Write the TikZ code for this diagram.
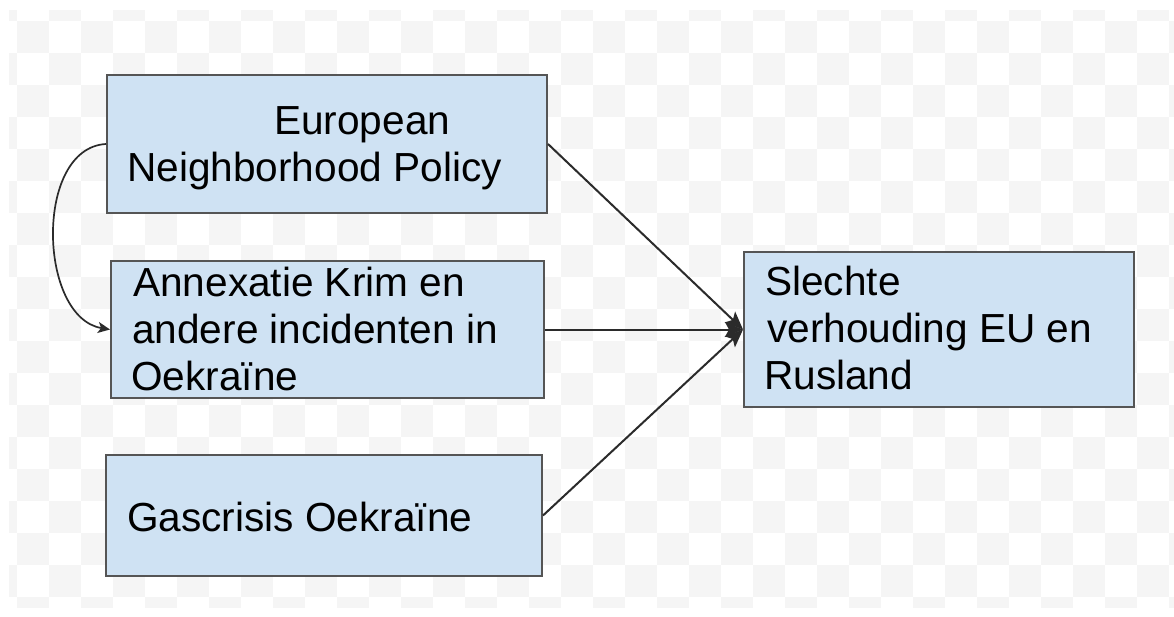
\documentclass[tikz,border=0pt]{standalone}
\usepackage{fontspec}
\setmainfont{Liberation Sans}
\usetikzlibrary{arrows.meta}
\definecolor{boxfill}{HTML}{CFE2F3}
\definecolor{boxdraw}{HTML}{555555}
\definecolor{chk}{HTML}{F5F5F5}
\definecolor{lin}{HTML}{2B2B2B}
\begin{document}
\begin{tikzpicture}[x=1pt,y=-1pt,
  box/.style={draw=boxdraw, line width=2pt, fill=boxfill, rectangle, inner sep=0pt},
  txt/.style={anchor=base west, inner sep=0pt, text=black, font=\fontsize{40.6}{47}\selectfont},
  conn/.style={draw=lin, line width=2pt, -{Stealth[length=18pt,width=15pt,inset=4pt]}},
  curv/.style={draw=lin, line width=1.7pt, -{Stealth[length=12pt,width=11pt,inset=3pt]}}]
\useasboundingbox (0,0) rectangle (1174,617);
\fill[white] (0,0) rectangle (1174,617);
\begin{scope}
  \clip (9,11) rectangle (1174,607);
  \foreach \i in {-1,...,36} {
    \foreach \j in {-1,...,18} {
      \pgfmathparse{int(mod(\i+\j+2,2))}
      \ifnum\pgfmathresult=0
        \fill[chk] ({17+32*\i},{21+32*\j}) rectangle +(32,32);
      \fi
    }
  }
\end{scope}
% boxes
\node[box, minimum width=440pt, minimum height=138pt] (enp) at (327,144) {};
\node[box, minimum width=433pt, minimum height=137pt] (ann) at (327.5,329.5) {};
\node[box, minimum width=436pt, minimum height=121pt] (gas) at (324,515.5) {};
\node[box, minimum width=390pt, minimum height=155pt] (rel) at (939,329.5) {};
% texts
\node[txt] (enp1) at (274,135) {European};
\node[txt] (enp2) at (127,182) {Neighborhood Policy};
\node[txt] (ann1) at (133,297) {Annexatie Krim en};
\node[txt] (ann2) at (132,343) {andere incidenten in};
\node[txt] (ann3) at (131,390) {Oekraïne};
\node[txt] (gas1) at (127,531) {Gascrisis Oekraïne};
\node[txt] (rel1) at (765,295) {Slechte};
\node[txt] (rel2) at (767,342) {verhouding EU en};
\node[txt] (rel3) at (764,389) {Rusland};
% connectors
\draw[conn] (enp.east) -- (rel.west);
\draw[conn] (ann.east) -- (rel.west);
\draw[conn] (gas.east) -- (rel.west);
\draw[curv] (enp.west) .. controls +(-72,4) and +(-72,-12) .. (ann.west);
\end{tikzpicture}
\end{document}
